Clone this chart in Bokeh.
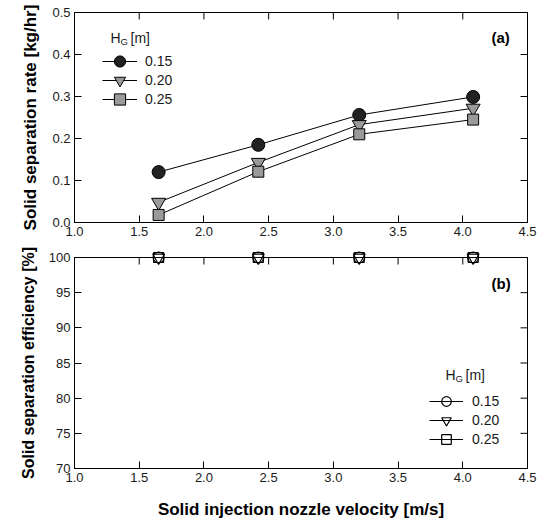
import math
from bokeh.plotting import figure
from bokeh.layouts import column
from bokeh.models import Range1d, FixedTicker, Label, Legend, LegendItem, NumeralTickFormatter
from bokeh.embed import file_html
from bokeh.resources import INLINE

# ---------------- data ----------------
velocity = [1.65, 2.42, 3.20, 4.08]
rate_h015 = [0.120, 0.185, 0.256, 0.299]
rate_h020 = [0.048, 0.143, 0.233, 0.272]
rate_h025 = [0.018, 0.121, 0.210, 0.245]
eff_h015 = [100, 100, 100, 100]
eff_h020 = [100, 100, 100, 100]
eff_h025 = [100, 100, 100, 100]
heights = ["0.15", "0.20", "0.25"]
x_ticks = [1.0, 1.5, 2.0, 2.5, 3.0, 3.5, 4.0, 4.5]
rate_ticks = [0.0, 0.1, 0.2, 0.3, 0.4, 0.5]
eff_ticks = [70, 75, 80, 85, 90, 95, 100]

FONT = "Liberation Sans"
X_START, X_END = 1.0, 4.5


def make_fig(y0, y1, yticks, yfmt, ylabel, ylabel_size, btop, bbottom, fh, xlabel=None):
    p = figure(frame_width=453, frame_height=fh, x_range=Range1d(X_START, X_END),
               y_range=Range1d(y0, y1), output_backend="svg", toolbar_location=None,
               min_border_left=74, min_border_right=20,
               min_border_top=btop, min_border_bottom=bbottom)
    p.grid.visible = False
    p.outline_line_color = "black"
    p.outline_line_alpha = 1
    p.outline_line_width = 1
    p.background_fill_color = "white"
    p.border_fill_color = "white"
    p.xaxis.ticker = FixedTicker(ticks=x_ticks)
    p.xaxis.formatter = NumeralTickFormatter(format="0.0")
    p.yaxis.ticker = FixedTicker(ticks=yticks)
    p.yaxis.formatter = NumeralTickFormatter(format=yfmt)
    for ax in list(p.xaxis) + list(p.yaxis):
        ax.major_tick_in = 7
        ax.major_tick_out = 0
        ax.minor_tick_line_color = None
        ax.axis_line_color = "black"
        ax.major_tick_line_color = "black"
        ax.major_label_text_font = FONT
        ax.major_label_text_font_size = "13px"
        ax.major_label_text_color = "#1a1a1a"
        ax.major_label_standoff = 4
        ax.axis_label_text_font = FONT
        ax.axis_label_text_font_size = "17px"
        ax.axis_label_text_font_style = "bold"
        ax.axis_label_text_color = "black"
    p.yaxis.axis_label = ylabel
    p.yaxis.axis_label_text_font_size = ylabel_size
    p.yaxis.axis_label_standoff = 9
    if xlabel:
        p.xaxis.axis_label = xlabel
        p.xaxis.axis_label_standoff = 15
    # inward ticks on the top and right edges (dash markers clipped by the frame)
    p.scatter(x_ticks, [y1] * len(x_ticks), marker="dash", size=14, angle=math.pi / 2,
              line_color="black", line_width=1)
    p.scatter([X_END] * len(yticks), yticks, marker="dash", size=14,
              line_color="black", line_width=1)
    return p


def title_labels(p, x, y):
    p.add_layout(Label(x=x, y=y, x_units="screen", y_units="screen", text="H",
                       text_font=FONT, text_font_size="14px", text_baseline="middle",
                       text_color="#1a1a1a"))
    p.add_layout(Label(x=x + 10, y=y - 4, x_units="screen", y_units="screen", text="G",
                       text_font=FONT, text_font_size="9.5px", text_baseline="middle",
                       text_color="#1a1a1a"))
    p.add_layout(Label(x=x + 20, y=y, x_units="screen", y_units="screen", text="[m]",
                       text_font=FONT, text_font_size="14px", text_baseline="middle",
                       text_color="#1a1a1a"))


def add_row_legends(p, items, x, row_centers, gw, gh, standoff):
    # one single-item legend per row, so the row pitch and marker size are independent
    for item, cy in zip(items, row_centers):
        leg = Legend(items=[item], location=(x, cy - gh / 2), padding=0, margin=0, spacing=0,
                     glyph_width=gw, glyph_height=gh, label_height=gh, label_standoff=standoff,
                     label_text_font=FONT, label_text_font_size="14px",
                     label_text_color="#1a1a1a", label_text_baseline="middle",
                     border_line_color=None, background_fill_alpha=0)
        p.add_layout(leg, "center")


# ---------------- top panel (a) ----------------
p1 = make_fig(0.0, 0.5, rate_ticks, "0.0", "Solid separation rate [kg/hr]", "17px", 12, 22, 210)
series_a = [
    (rate_h015, "circle", 13, "#222222"),
    (rate_h020, "inverted_triangle", 14, "#9a9a9a"),
    (rate_h025, "square", 11, "#9a9a9a"),
]
items = []
for (ys, mk, sz, fc), lab in zip(series_a, heights):
    lr = p1.line(velocity, ys, line_color="black", line_width=1)
    sr = p1.scatter(velocity, ys, marker=mk, size=sz, fill_color=fc, line_color="black",
                    line_width=1)
    items.append(LegendItem(label=lab, renderers=[lr, sr]))
add_row_legends(p1, items, 28, [161, 142, 123], 35, 28, 8)
title_labels(p1, 36, 185)
p1.add_layout(Label(x=417, y=185, x_units="screen", y_units="screen", text="(a)",
                    text_font=FONT, text_font_size="15px", text_font_style="bold",
                    text_baseline="middle", text_color="black"))

# ---------------- bottom panel (b) ----------------
p2 = make_fig(70, 100, eff_ticks, "0", "Solid separation efficiency [%]", "16px", 13, 58, 211,
              xlabel="Solid injection nozzle velocity [m/s]")
series_b = [
    (eff_h015, "circle", 11),
    (eff_h020, "inverted_triangle", 12),
    (eff_h025, "square", 10),
]
items2 = []
for (ys, mk, sz), lab in zip(series_b, heights):
    lr = p2.line(velocity, ys, line_color="black", line_width=1, level="overlay")
    sr = p2.scatter(velocity, ys, marker=mk, size=sz, fill_color=None, line_color="black",
                    line_width=1.2, level="overlay")
    items2.append(LegendItem(label=lab, renderers=[lr, sr]))
add_row_legends(p2, items2, 355, [67, 48, 29], 34, 24, 9)
title_labels(p2, 371, 94)
p2.add_layout(Label(x=417, y=185, x_units="screen", y_units="screen", text="(b)",
                    text_font=FONT, text_font_size="15px", text_font_style="bold",
                    text_baseline="middle", text_color="black"))

layout = column(p1, p2, spacing=0)
open("out.html", "w").write(file_html(layout, INLINE))
